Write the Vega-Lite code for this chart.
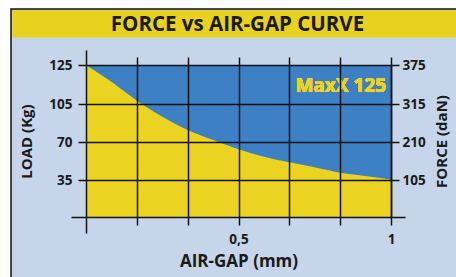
{
  "$schema": "https://vega.github.io/schema/vega-lite/v6.json",
  "width": 446,
  "height": 278,
  "autosize": {"type": "none"},
  "padding": {"left": 11, "top": 9, "right": 0, "bottom": 0},
  "data": {"values": [
    {"gap": 0, "load": 125},
    {"gap": 0.0833, "load": 116.4},
    {"gap": 0.1667, "load": 106.7},
    {"gap": 0.25, "load": 93.3},
    {"gap": 0.3333, "load": 81.1},
    {"gap": 0.4167, "load": 71.8},
    {"gap": 0.5, "load": 63.3},
    {"gap": 0.5833, "load": 56.5},
    {"gap": 0.6667, "load": 51.3},
    {"gap": 0.75, "load": 46.7},
    {"gap": 0.8333, "load": 41.7},
    {"gap": 0.9167, "load": 38.7},
    {"gap": 1, "load": 35.5}
  ]},
  "layer": [
    {
      "mark": {"type": "area", "color": "#3D81C4"},
      "encoding": {
        "x": {"field": "gap", "type": "quantitative",
          "scale": {"domain": [0, 1], "range": [75, 380], "nice": false, "zero": false},
          "axis": {"orient": "bottom", "offset": -70, "values": [0.16666666666666666, 0.3333333333333333, 0.5, 0.6666666666666666, 0.8333333333333334, 1],
            "labelExpr": "datum.value == 0.5 ? '0,5' : (datum.value == 1 ? '1' : '')",
            "grid": false, "domain": true, "tickSize": 8, "labelPadding": 7, "labelFlush": false, "labelOverlap": false,
            "title": "AIR-GAP (mm)", "titleFontSize": 17, "titlePadding": 8, "zindex": 1}},
        "y": {"datum": 125, "type": "quantitative",
          "scale": {"domain": [0, 35, 70, 105, 125], "range": [208, 171, 133, 95, 56], "nice": false, "zero": false},
          "axis": {"orient": "left", "offset": -75, "values": [35, 70, 105, 125], "grid": true, "domain": true,
            "tickSize": 8, "labelPadding": 6, "title": "LOAD (Kg)", "titlePadding": 14, "zindex": 1}},
        "y2": {"datum": 0}
      }
    },
    {
      "mark": {"type": "area", "color": "#EBD321", "interpolate": "monotone"},
      "encoding": {
        "x": {"field": "gap", "type": "quantitative",
          "scale": {"domain": [0, 1], "range": [75, 380], "nice": false, "zero": false},
          "axis": {"orient": "top", "offset": -56, "values": [0.16666666666666666, 0.3333333333333333, 0.5, 0.6666666666666666, 0.8333333333333334, 1],
            "labels": false, "grid": true, "domain": false, "tickSize": 8, "title": null, "zindex": 1}},
        "y": {"field": "load", "type": "quantitative",
          "scale": {"domain": [0, 35, 70, 105, 125], "range": [208, 171, 133, 95, 56], "nice": false, "zero": false},
          "axis": {"orient": "right", "offset": -66, "values": [35, 70, 105, 125], "grid": false, "domain": true,
            "tickSize": 8, "labelPadding": 3, "labelExpr": "format(datum.value * 3, 'd')",
            "title": "FORCE (daN)", "titleAngle": 270, "titleBaseline": "top", "titlePadding": 9, "zindex": 1}},
        "y2": {"datum": 0}
      }
    },
    {
      "mark": {"type": "text", "color": "#EBD321", "fontSize": 19, "fontWeight": "bold", "font": "Open Sans", "align": "right", "baseline": "alphabetic", "dx": -5},
      "encoding": {
        "text": {"value": "MaxX 125"},
        "x": {"datum": 1, "type": "quantitative",
          "scale": {"domain": [0, 1], "range": [75, 380], "nice": false, "zero": false},
          "axis": {"orient": "bottom", "offset": -70, "values": [0], "labels": false, "grid": false, "domain": false, "tickSize": 16, "title": null, "zindex": 1}},
        "y": {"datum": 111, "type": "quantitative",
          "scale": {"domain": [0, 35, 70, 105, 125], "range": [208, 171, 133, 95, 56], "nice": false, "zero": false},
          "axis": {"orient": "left", "offset": -75, "values": [0], "labels": false, "grid": false, "domain": false, "tickSize": 15, "title": null, "zindex": 1}}
      }
    },
    {
      "mark": {"type": "rule", "opacity": 0},
      "encoding": {
        "x": {"field": "gap", "type": "quantitative",
          "scale": {"domain": [0, 1], "range": [75, 380], "nice": false, "zero": false},
          "axis": {"orient": "top", "offset": -56, "values": [0], "labels": false, "grid": false, "domain": false, "tickSize": 15, "title": null, "zindex": 1}},
        "y": {"field": "load", "type": "quantitative",
          "scale": {"domain": [0, 35, 70, 105, 125], "range": [208, 171, 133, 95, 56], "nice": false, "zero": false},
          "axis": {"orient": "right", "offset": -66, "values": [0], "labels": false, "grid": false, "domain": false, "tickSize": 14, "title": null, "zindex": 1}}
      }
    },
    {
      "mark": {"type": "rule", "opacity": 0},
      "encoding": {
        "x": {"field": "gap", "type": "quantitative",
          "scale": {"domain": [0, 1], "range": [0.75, 446], "nice": false, "zero": false},
          "axis": {"orient": "top", "offset": -14.4, "values": [], "labels": false, "ticks": false, "grid": false,
            "domain": true, "domainColor": "#E9D120", "domainWidth": 27.2,
            "title": "FORCE vs AIR-GAP CURVE", "titleFontSize": 20.5, "titleX": 226, "titleY": 1, "titleBaseline": "middle", "titleAlign": "center", "titleAngle": 0, "zindex": 0}},
        "y": {"field": "load", "type": "quantitative",
          "scale": {"domain": [0, 35, 70, 105, 125], "range": [208, 171, 133, 95, 56], "nice": false, "zero": false},
          "axis": null}
      }
    }
  ],
  "resolve": {"scale": {"x": "independent", "y": "independent"}, "axis": {"x": "independent", "y": "independent"}},
  "config": {
    "background": "white",
    "font": "Open Sans",
    "view": {"fill": "#C6D5EA", "stroke": "#111111", "strokeWidth": 1.5},
    "axis": {
      "labelFont": "Open Sans", "labelFontWeight": "bold", "labelFontSize": 13.5, "labelColor": "#1a1a1a",
      "titleFont": "Open Sans", "titleFontWeight": "bold", "titleFontSize": 15, "titleColor": "#1a1a1a",
      "tickColor": "#111111", "tickWidth": 1.5, "domainColor": "#111111", "domainWidth": 1.5,
      "gridColor": "#111111", "gridWidth": 1.5, "gridOpacity": 1
    }
  }
}
